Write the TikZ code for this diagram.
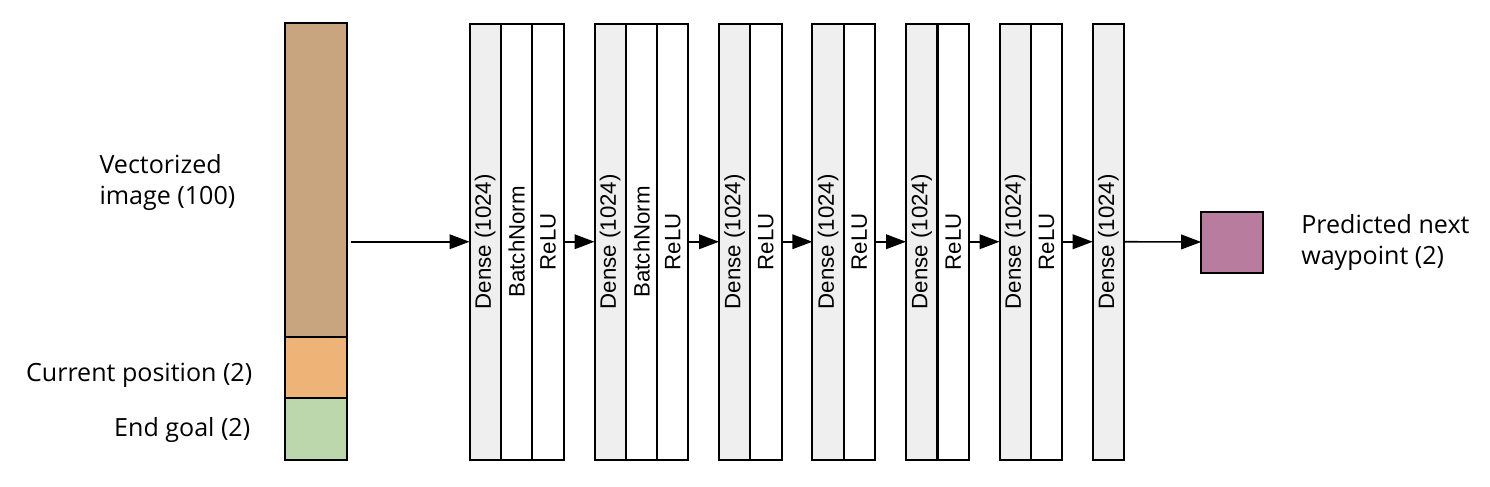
\documentclass[tikz,border=0pt]{standalone}
\usepackage{fontspec}
\setmainfont{Open Sans}
\newfontfamily\arialf{Liberation Sans}
\usetikzlibrary{arrows.meta}
\definecolor{cbrown}{HTML}{C8A57E}
\definecolor{corange}{HTML}{EEB377}
\definecolor{cgreen}{HTML}{BDD7AD}
\definecolor{cpurple}{HTML}{B77C9E}
\definecolor{cgrey}{HTML}{EFEFEF}
\def\pxu{0.75pt}
\tikzset{
  box/.style={draw=black, line width=1.5pt, inner sep=0pt, outer sep=0pt},
  cell/.style={box, rotate=90, minimum width=436.5*\pxu, minimum height=31.4*\pxu,
    font=\arialf\fontsize{16.7}{18}\selectfont},
  dense/.style={cell, fill=cgrey},
  plain/.style={cell, fill=white},
  conn/.style={line width=1.2pt, -{Triangle[length=15pt,width=11pt]}},
  lbl/.style={inner sep=0pt, font=\fontsize{18.8}{23.25}\selectfont, align=left}
}
\begin{document}
\begin{tikzpicture}[x=0.75pt,y=-0.75pt]
\useasboundingbox (0,0) rectangle (1490,486);
% input column
\node[box, fill=cbrown, minimum width=62*\pxu, minimum height=313.7*\pxu] (img) at (316,180.2) {};
\node[box, fill=corange, minimum width=62*\pxu, minimum height=61*\pxu] (pos) at (316,367.5) {};
\node[box, fill=cgreen, minimum width=62*\pxu, minimum height=62*\pxu] (goal) at (316,429) {};
\node[lbl, anchor=base west] (limg) at (99.3,204) {Vectorized\\image (100)};
\node[lbl, anchor=base east] (lpos) at (252.5,381.7) {Current position (2)};
\node[lbl, anchor=base east] (lgoal) at (250.5,436.7) {End goal (2)};
% block 1
\node[dense] (d1) at (485.2,241.75) {Dense (1024)};
\node[plain] (b1) at (516.7,241.75) {BatchNorm};
\node[plain] (r1) at (548.0,241.75) {ReLU};
% block 2
\node[dense] (d2) at (610.2,241.75) {Dense (1024)};
\node[plain] (b2) at (641.7,241.75) {BatchNorm};
\node[plain] (r2) at (672.7,241.75) {ReLU};
% block 3
\node[dense] (d3) at (734.7,241.75) {Dense (1024)};
\node[plain] (r3) at (765.9,241.75) {ReLU};
% block 4
\node[dense] (d4) at (828.0,241.75) {Dense (1024)};
\node[plain] (r4) at (859.4,241.75) {ReLU};
% block 5
\node[dense] (d5) at (921.7,241.75) {Dense (1024)};
\node[plain] (r5) at (953.2,241.75) {ReLU};
% block 6
\node[dense] (d6) at (1015.2,241.75) {Dense (1024)};
\node[plain] (r6) at (1046.5,241.75) {ReLU};
% block 7
\node[dense] (d7) at (1108.4,241.75) {Dense (1024)};
% output
\node[box, fill=cpurple, minimum width=62*\pxu, minimum height=61*\pxu] (out) at (1232.2,242) {};
\node[lbl, anchor=base west] (lout) at (1301,264) {Predicted next\\waypoint (2)};
% connectors
\coordinate (src) at (351,241.75);
\draw[conn] (src) -- (d1.north);
\draw[conn] (r1.south) -- (d2.north);
\draw[conn] (r2.south) -- (d3.north);
\draw[conn] (r3.south) -- (d4.north);
\draw[conn] (r4.south) -- (d5.north);
\draw[conn] (r5.south) -- (d6.north);
\draw[conn] (r6.south) -- (d7.north);
\draw[conn] (d7.south) -- (out.west);
\end{tikzpicture}
\end{document}
